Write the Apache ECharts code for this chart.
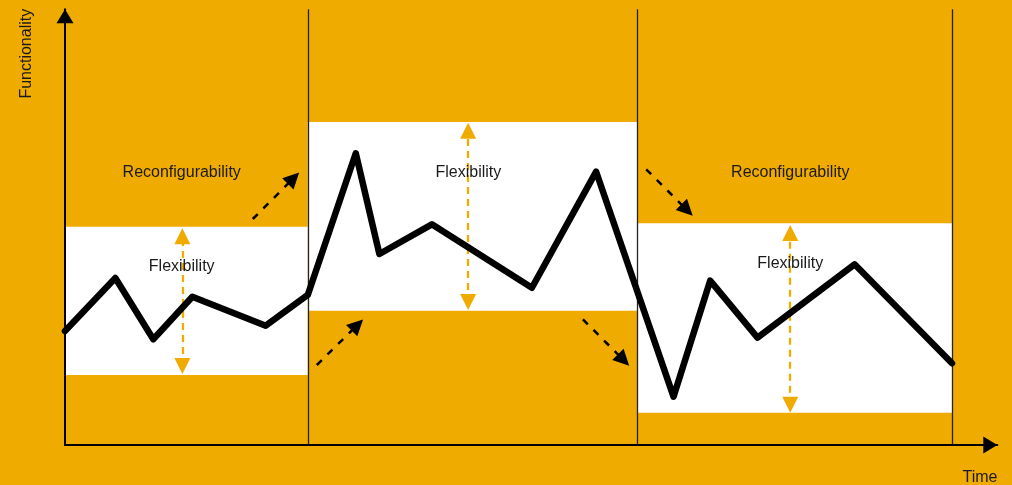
<!DOCTYPE html>
<html>
<head>
<meta charset="utf-8">
<script src="https://cdn.jsdelivr.net/npm/echarts@6/dist/echarts.min.js"></script>
<style>
html,body{margin:0;padding:0;background:#EFAB00;}
#chart{width:1012px;height:485px;}
</style>
</head>
<body>
<div id="chart"></div>
<script>
// ---- data (time 0..100, functionality 0..100) ----
const timePoints    = [0, 5.4, 9.47, 13.66, 21.53, 26.04, 31.19, 33.72, 39.35, 50.08, 56.97, 65.27, 69.2, 74.28, 84.69, 95.14];
const functionality = [26.16, 38.33, 24.26, 34.04, 27.38, 34.43, 66.95, 43.84, 50.65, 36.1, 62.73, 11.09, 37.71, 24.63, 41.47, 18.75];

const phaseStart = [0, 26.04, 61.4];
const phaseEnd   = [26.04, 61.4, 95.14];
const bandLow    = [16.07, 30.82, 7.41];
const bandHigh   = [50.10, 74.13, 50.88];

const flexX    = [12.59, 43.24, 77.79];
const flexLow  = [18.13, 32.82, 9.25];
const flexHigh = [47.9, 72.14, 48.66];

const arrowFrom = [[20.14, 51.87], [27.01, 18.36], [55.55, 28.85], [62.34, 63.28]];
const arrowTo   = [[24.51, 61.23], [31.36, 27.54], [59.91, 19.49], [66.72, 53.91]];

const labelNames = ['Reconfigurability', 'Flexibility', 'Flexibility', 'Reconfigurability', 'Flexibility'];
const labelX = [12.52, 12.52, 43.27, 77.79, 77.79];
const labelY = [62.5, 40.92, 62.59, 62.59, 41.54];

const ORANGE = '#EFAB00';
const FONT = '"Liberation Sans", Arial, sans-serif';

const chart = echarts.init(document.getElementById('chart'));
chart.setOption({
  backgroundColor: ORANGE,
  animation: false,
  grid: { left: 65, right: 14.7, top: 9.3, bottom: 40 },
  xAxis: {
    type: 'value', min: 0, max: 100,
    splitLine: { show: false }, axisTick: { show: false }, axisLabel: { show: false },
    axisLine: { show: true, onZero: false, symbol: ['none', 'triangle'], symbolSize: [17, 14], symbolOffset: [0, -7],
      lineStyle: { color: '#000', width: 2 } },
    z: 20
  },
  yAxis: {
    type: 'value', min: 0, max: 100,
    splitLine: { show: false }, axisTick: { show: false }, axisLabel: { show: false },
    axisLine: { show: true, onZero: false, symbol: ['none', 'triangle'], symbolSize: [17, 14], symbolOffset: [0, -7],
      lineStyle: { color: '#000', width: 2 } },
    z: 20
  },
  graphic: [
    { type: 'text', x: 26.7, y: 53.7, rotation: Math.PI / 2,
      style: { text: 'Functionality', fill: '#1a1a1a', font: '16px ' + FONT, align: 'center', verticalAlign: 'middle' } },
    { type: 'text', x: 980, y: 477.7,
      style: { text: 'Time', fill: '#1a1a1a', font: '16px ' + FONT, align: 'center', verticalAlign: 'middle' } }
  ],
  series: [
    {
      type: 'custom', z: 1, silent: true,
      data: phaseStart.map((s, i) => [s, phaseEnd[i], bandLow[i], bandHigh[i]]),
      renderItem: function (params, api) {
        const p1 = api.coord([api.value(0), api.value(3)]);
        const p2 = api.coord([api.value(1), api.value(2)]);
        return { type: 'rect', shape: { x: p1[0], y: p1[1], width: p2[0] - p1[0], height: p2[1] - p1[1] },
          style: { fill: '#ffffff' } };
      }
    },
    {
      type: 'line', z: 2, silent: true, data: [],
      markLine: {
        silent: true, symbol: ['none', 'none'], label: { show: false },
        lineStyle: { color: '#222', width: 1.3, type: 'solid' },
        data: phaseEnd.map(x => ({ xAxis: x }))
      }
    },
    {
      type: 'lines', coordinateSystem: 'cartesian2d', z: 3, silent: true,
      symbol: ['triangle', 'triangle'], symbolSize: 16,
      lineStyle: { color: ORANGE, width: 2.3, type: [7, 5], opacity: 1 },
      data: flexX.map((x, i) => ({ coords: [[x, flexLow[i]], [x, flexHigh[i]]] }))
    },
    {
      type: 'lines', coordinateSystem: 'cartesian2d', z: 3, silent: true,
      symbol: ['none', 'triangle'], symbolSize: 16,
      lineStyle: { color: '#000', width: 2.5, type: [7, 8], opacity: 1 },
      data: arrowFrom.map((f, i) => ({ coords: [f, arrowTo[i]] }))
    },
    {
      type: 'custom', z: 4, silent: true,
      data: labelNames.map((n, i) => [labelX[i], labelY[i], n]),
      renderItem: function (params, api) {
        const p = api.coord([api.value(0), api.value(1)]);
        return { type: 'text', x: p[0], y: p[1],
          style: { text: labelNames[params.dataIndex], fill: '#1a1a1a', font: '16px ' + FONT, align: 'center', verticalAlign: 'middle' } };
      }
    },
    {
      type: 'line', z: 5, silent: true, showSymbol: false,
      data: timePoints.map((t, i) => [t, functionality[i]]),
      lineStyle: { color: '#000', width: 6.5, join: 'round', cap: 'round' }
    }
  ]
});
</script>
</body>
</html>
